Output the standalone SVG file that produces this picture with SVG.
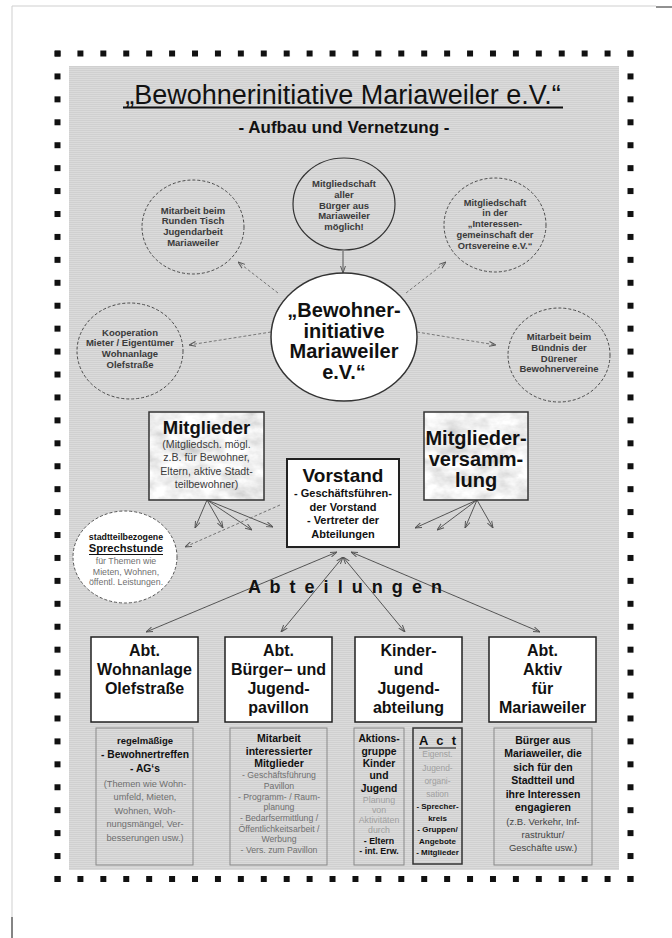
<svg xmlns="http://www.w3.org/2000/svg" width="672" height="938" viewBox="0 0 672 938">
<style>
text{font-family:"Liberation Sans",Arial,Helvetica,sans-serif;text-anchor:middle;fill:#111}
.b{font-weight:bold}
.g{fill:#6f6f6f}
.lg{fill:#a0a0a0}
.dk{fill:#3a3a3a}
.dc{fill:none;stroke:#4a4a4a;stroke-width:1;stroke-dasharray:3 2}
.ln{stroke:#555;stroke-width:1;fill:none;marker-end:url(#ah)}
.da{marker-start:url(#ah)}
.dl{stroke:#777;stroke-width:1;stroke-dasharray:3 2;fill:none;marker-end:url(#ah)}
.bx{fill:#fff;stroke:#222;stroke-width:1.5}
.mb{fill:none;stroke:#333;stroke-width:1.5}
.sb{fill:none;stroke:#8a8a8a;stroke-width:1}
.ul{stroke:#111;fill:none}
</style>
<defs>
<pattern id="hatch" patternUnits="userSpaceOnUse" width="4" height="2">
<rect width="4" height="2" fill="#dbdbdb"/>
<rect width="4" height="1" fill="#d0d0d0"/>
</pattern>
<pattern id="dotH" patternUnits="userSpaceOnUse" x="54.5" y="0" width="22.92" height="938">
<rect x="0" y="0" width="6" height="938" fill="#111"/>
</pattern>
<pattern id="dotV" patternUnits="userSpaceOnUse" x="0" y="50.5" width="672" height="22.93">
<rect x="0" y="0" width="672" height="6" fill="#111"/>
</pattern>
<filter id="marble" x="0" y="0" width="1" height="1">
<feTurbulence type="fractalNoise" baseFrequency="0.045 0.07" numOctaves="4" seed="7" result="n"/>
<feColorMatrix in="n" type="matrix" values="0.7 0 0 0 0.52  0.7 0 0 0 0.52  0.7 0 0 0 0.52  0 0 0 0 1" result="c"/>
<feComposite in="c" in2="SourceGraphic" operator="in"/>
</filter>
<marker id="ah" viewBox="0 0 10 10" refX="10" refY="5" markerWidth="7" markerHeight="7" orient="auto-start-reverse">
<path d="M0,1.5 L10,5 L0,8.5" fill="none" stroke="#555" stroke-width="1.4"/>
</marker>
</defs>

<rect width="672" height="938" fill="#fff"/>
<path d="M12,938 V6 H656" fill="none" stroke="#cfcfcf" stroke-width="1"/>
<path d="M656,7 H672 M12,917 V938" fill="none" stroke="#222" stroke-width="1"/>

<g id="frame">
<rect x="54.5" y="50.5" width="579" height="6" fill="url(#dotH)"/>
<rect x="54.5" y="876" width="579" height="6" fill="url(#dotH)"/>
<rect x="54.5" y="50.5" width="6" height="831.5" fill="url(#dotV)"/>
<rect x="627.5" y="50.5" width="6" height="831.5" fill="url(#dotV)"/>
<rect x="69" y="66" width="550" height="804" fill="url(#hatch)"/>
</g>

<g id="title">
<text x="343" y="104" font-size="27">„Bewohnerinitiative Mariaweiler e.V.“</text>
<line class="ul" x1="123" y1="107.5" x2="563" y2="107.5" stroke-width="2"/>
<text x="344" y="133" font-size="17" class="b">- Aufbau und Vernetzung -</text>
</g>

<g id="connectors">
<line class="ln" x1="343" y1="251" x2="343" y2="273"/>
<line class="dl" x1="278" y1="293" x2="238" y2="262"/>
<line class="dl" x1="406" y1="293" x2="446" y2="262"/>
<line class="dl" x1="271" y1="332" x2="189" y2="345"/>
<line class="dl" x1="417" y1="332" x2="496" y2="345"/>
<line class="ln" x1="207" y1="500" x2="195" y2="528"/>
<line class="ln" x1="207" y1="500" x2="223" y2="528"/>
<line class="ln" x1="207" y1="500" x2="252" y2="530"/>
<line class="ln" x1="207" y1="500" x2="273" y2="527"/>
<line class="ln" x1="477" y1="500" x2="415" y2="528"/>
<line class="ln" x1="477" y1="500" x2="437" y2="530"/>
<line class="ln" x1="477" y1="500" x2="465" y2="528"/>
<line class="ln" x1="477" y1="500" x2="493" y2="528"/>
<line class="dl" x1="280" y1="505" x2="185" y2="547"/>
<line class="ln da" x1="337" y1="552" x2="146" y2="632"/>
<line class="ln da" x1="343" y1="557" x2="281" y2="632"/>
<line class="ln da" x1="343" y1="557" x2="405" y2="632"/>
<line class="ln da" x1="351" y1="552" x2="540" y2="632"/>
</g>

<g id="c-mitgliedschaft">
<ellipse cx="344" cy="204" rx="51" ry="46" fill="none" stroke="#333" stroke-width="1.2"/>
<text font-size="9.5" class="b dk"><tspan x="344" y="187">Mitgliedschaft</tspan><tspan x="344" y="197.8">aller</tspan><tspan x="344" y="208.6">Bürger aus</tspan><tspan x="344" y="219.4">Mariaweiler</tspan><tspan x="344" y="230.2">möglich!</tspan></text>
</g>

<g id="c-runder-tisch">
<ellipse cx="193" cy="227" rx="51" ry="47" class="dc"/>
<text font-size="9.5" class="b dk"><tspan x="193" y="213.5">Mitarbeit beim</tspan><tspan x="193" y="224.3">Runden Tisch</tspan><tspan x="193" y="235.1">Jugendarbeit</tspan><tspan x="193" y="245.9">Mariaweiler</tspan></text>
</g>

<g id="c-ig-ortsvereine">
<ellipse cx="495" cy="225" rx="51" ry="47" class="dc"/>
<text font-size="9.3" class="b dk"><tspan x="495" y="205.5">Mitgliedschaft</tspan><tspan x="495" y="216.3">in der</tspan><tspan x="495" y="227.1">„Interessen-</tspan><tspan x="495" y="237.9">gemeinschaft der</tspan><tspan x="495" y="248.7">Ortsvereine e.V.“</tspan></text>
</g>

<g id="c-kooperation">
<ellipse cx="130" cy="351" rx="53" ry="48" class="dc"/>
<text font-size="9.5" class="b dk"><tspan x="130" y="335.5">Kooperation</tspan><tspan x="130" y="346.3">Mieter / Eigentümer</tspan><tspan x="130" y="357.1">Wohnanlage</tspan><tspan x="130" y="367.9">Olefstraße</tspan></text>
</g>

<g id="c-buendnis">
<ellipse cx="559" cy="355" rx="51" ry="47" class="dc"/>
<text font-size="9.5" class="b dk"><tspan x="559" y="340">Mitarbeit beim</tspan><tspan x="559" y="350.8">Bündnis der</tspan><tspan x="559" y="361.6">Dürener</tspan><tspan x="559" y="372.4">Bewohnervereine</tspan></text>
</g>

<g id="c-bewohnerinitiative">
<ellipse cx="344" cy="337" rx="73" ry="64" fill="#fff" stroke="#333" stroke-width="1.5"/>
<text font-size="20" class="b"><tspan x="344" y="317">„Bewohner-</tspan><tspan x="344" y="337.5">initiative</tspan><tspan x="344" y="358">Mariaweiler</tspan><tspan x="344" y="378.5">e.V.“</tspan></text>
</g>

<g id="n-mitglieder">
<rect x="149" y="412" width="115" height="88" fill="#fff" filter="url(#marble)"/>
<rect x="149" y="412" width="115" height="88" class="mb"/>
<text x="206.5" y="433.5" font-size="18.5" class="b">Mitglieder</text>
<text font-size="10.6" style="fill:#3c3c3c"><tspan x="206.5" y="448">(Mitgliedsch. mögl.</tspan><tspan x="206.5" y="461.3">z.B. für Bewohner,</tspan><tspan x="206.5" y="474.6">Eltern, aktive Stadt-</tspan><tspan x="206.5" y="487.9">teilbewohner)</tspan></text>
</g>

<g id="n-mitgliederversammlung">
<rect x="424" y="412" width="104" height="88" fill="#fff" filter="url(#marble)"/>
<rect x="424" y="412" width="104" height="88" class="mb"/>
<text font-size="20" class="b"><tspan x="476" y="445">Mitglieder-</tspan><tspan x="476" y="466">versamm-</tspan><tspan x="476" y="487">lung</tspan></text>
</g>

<g id="n-vorstand">
<rect x="287" y="459" width="112" height="88" fill="#fff" stroke="#222" stroke-width="2"/>
<text x="343" y="482" font-size="19" class="b">Vorstand</text>
<text font-size="11" class="b"><tspan x="343" y="497">- Geschäftsführen-</tspan><tspan x="343" y="510.5">der Vorstand</tspan><tspan x="343" y="524">- Vertreter der</tspan><tspan x="343" y="537.5">Abteilungen</tspan></text>
</g>

<g id="n-sprechstunde">
<ellipse cx="125" cy="557" rx="52" ry="46" fill="#fff" stroke="#555" stroke-width="1" stroke-dasharray="3 2"/>
<text x="126" y="540" font-size="8.8" class="b">stadtteilbezogene</text>
<text x="126" y="552" font-size="11.2" class="b">Sprechstunde</text>
<line class="ul" x1="89" y1="554.5" x2="163" y2="554.5" stroke-width="1"/>
<text font-size="8.8" class="g"><tspan x="126" y="564">für Themen wie</tspan><tspan x="126" y="574.5">Mieten, Wohnen,</tspan><tspan x="126" y="585">öffentl. Leistungen.</tspan></text>
</g>

<g id="label-abteilungen">
<text x="345" y="593" font-size="18" class="b" textLength="194" lengthAdjust="spacing">A b t e i l u n g e n</text>
</g>

<g id="n-abt-wohnanlage">
<rect x="91" y="637" width="107" height="85" class="bx"/>
<text font-size="16" class="b"><tspan x="144.5" y="655.5">Abt.</tspan><tspan x="144.5" y="674.5">Wohnanlage</tspan><tspan x="144.5" y="693.5">Olefstraße</tspan></text>
</g>
<g id="n-abt-pavillon">
<rect x="225" y="637" width="107" height="85" class="bx"/>
<text font-size="16" class="b"><tspan x="278.5" y="655.5">Abt.</tspan><tspan x="278.5" y="674.5">Bürger– und</tspan><tspan x="278.5" y="693.5">Jugend-</tspan><tspan x="278.5" y="712.5">pavillon</tspan></text>
</g>
<g id="n-abt-kinder">
<rect x="355" y="637" width="107" height="85" class="bx"/>
<text font-size="16" class="b"><tspan x="408.5" y="655.5">Kinder-</tspan><tspan x="408.5" y="674.5">und</tspan><tspan x="408.5" y="693.5">Jugend-</tspan><tspan x="408.5" y="712.5">abteilung</tspan></text>
</g>
<g id="n-abt-aktiv">
<rect x="489" y="637" width="107" height="85" class="bx"/>
<text font-size="16" class="b"><tspan x="542.5" y="655.5">Abt.</tspan><tspan x="542.5" y="674.5">Aktiv</tspan><tspan x="542.5" y="693.5">für</tspan><tspan x="542.5" y="712.5">Mariaweiler</tspan></text>
</g>

<g id="d-wohnanlage">
<rect x="96" y="728" width="97" height="137" class="sb"/>
<text x="145" y="743.5" font-size="9.5" class="b">regelmäßige</text>
<text font-size="10.3" class="b"><tspan x="145" y="758">- Bewohnertreffen</tspan><tspan x="145" y="772">- AG‘s</tspan></text>
<text font-size="9.2" class="g"><tspan x="145" y="786.5">(Themen wie Wohn-</tspan><tspan x="145" y="800">umfeld, Mieten,</tspan><tspan x="145" y="813.5">Wohnen, Woh-</tspan><tspan x="145" y="827">nungsmängel, Ver-</tspan><tspan x="145" y="840.5">besserungen usw.)</tspan></text>
</g>

<g id="d-pavillon">
<rect x="230" y="728" width="97" height="137" class="sb"/>
<text font-size="10.5" class="b"><tspan x="279" y="742">Mitarbeit</tspan><tspan x="279" y="754.5">interessierter</tspan><tspan x="279" y="767">Mitglieder</tspan></text>
<text font-size="8.7" class="g"><tspan x="279" y="778">- Geschäftsführung</tspan><tspan x="279" y="788.5">Pavillon</tspan><tspan x="279" y="799.5">- Programm- / Raum-</tspan><tspan x="279" y="810">planung</tspan><tspan x="279" y="821">- Bedarfsermittlung /</tspan><tspan x="279" y="831.5">Öffentlichkeitsarbeit /</tspan><tspan x="279" y="842">Werbung</tspan><tspan x="279" y="852.5">- Vers. zum Pavillon</tspan></text>
</g>

<g id="d-aktionsgruppe">
<rect x="354" y="728" width="50" height="137" class="sb"/>
<text font-size="10.3" class="b"><tspan x="379" y="742">Aktions-</tspan><tspan x="379" y="754.5">gruppe</tspan><tspan x="379" y="767">Kinder</tspan><tspan x="379" y="779">und</tspan><tspan x="379" y="791.5">Jugend</tspan></text>
<text font-size="8.8" class="lg"><tspan x="379" y="802.5">Planung</tspan><tspan x="379" y="812.5">von</tspan><tspan x="379" y="822.5">Aktivitäten</tspan><tspan x="379" y="833">durch</tspan></text>
<text font-size="8.8" class="b"><tspan x="379" y="843.5">- Eltern</tspan><tspan x="379" y="854">- int. Erw.</tspan></text>
</g>

<g id="d-act">
<rect x="413" y="728" width="49" height="136" fill="none" stroke="#333" stroke-width="1.5"/>
<text x="437.5" y="745" font-size="13" class="b" textLength="37" lengthAdjust="spacing">A c t</text>
<line class="ul" x1="419" y1="748" x2="456" y2="748" stroke-width="1.2"/>
<text font-size="8.4" class="lg"><tspan x="437.5" y="756.5">Eigenst.</tspan><tspan x="437.5" y="771">Jugend-</tspan><tspan x="437.5" y="784">organi-</tspan><tspan x="437.5" y="796.5">sation</tspan></text>
<text font-size="8" class="b"><tspan x="437.5" y="809">- Sprecher-</tspan><tspan x="437.5" y="820.5">kreis</tspan><tspan x="437.5" y="832">- Gruppen/</tspan><tspan x="437.5" y="843.5">Angebote</tspan><tspan x="437.5" y="855">- Mitglieder</tspan></text>
</g>

<g id="d-aktiv">
<rect x="494" y="728" width="98" height="137" class="sb"/>
<text font-size="10.5" class="b"><tspan x="543" y="743.5">Bürger aus</tspan><tspan x="543" y="757">Mariaweiler, die</tspan><tspan x="543" y="770.5">sich für den</tspan><tspan x="543" y="784">Stadtteil und</tspan><tspan x="543" y="797.5">ihre Interessen</tspan><tspan x="543" y="811">engagieren</tspan></text>
<text font-size="9.5" style="fill:#444"><tspan x="543" y="824.5">(z.B. Verkehr, Inf-</tspan><tspan x="543" y="837.5">rastruktur/</tspan><tspan x="543" y="850.5">Geschäfte usw.)</tspan></text>
</g>
</svg>
